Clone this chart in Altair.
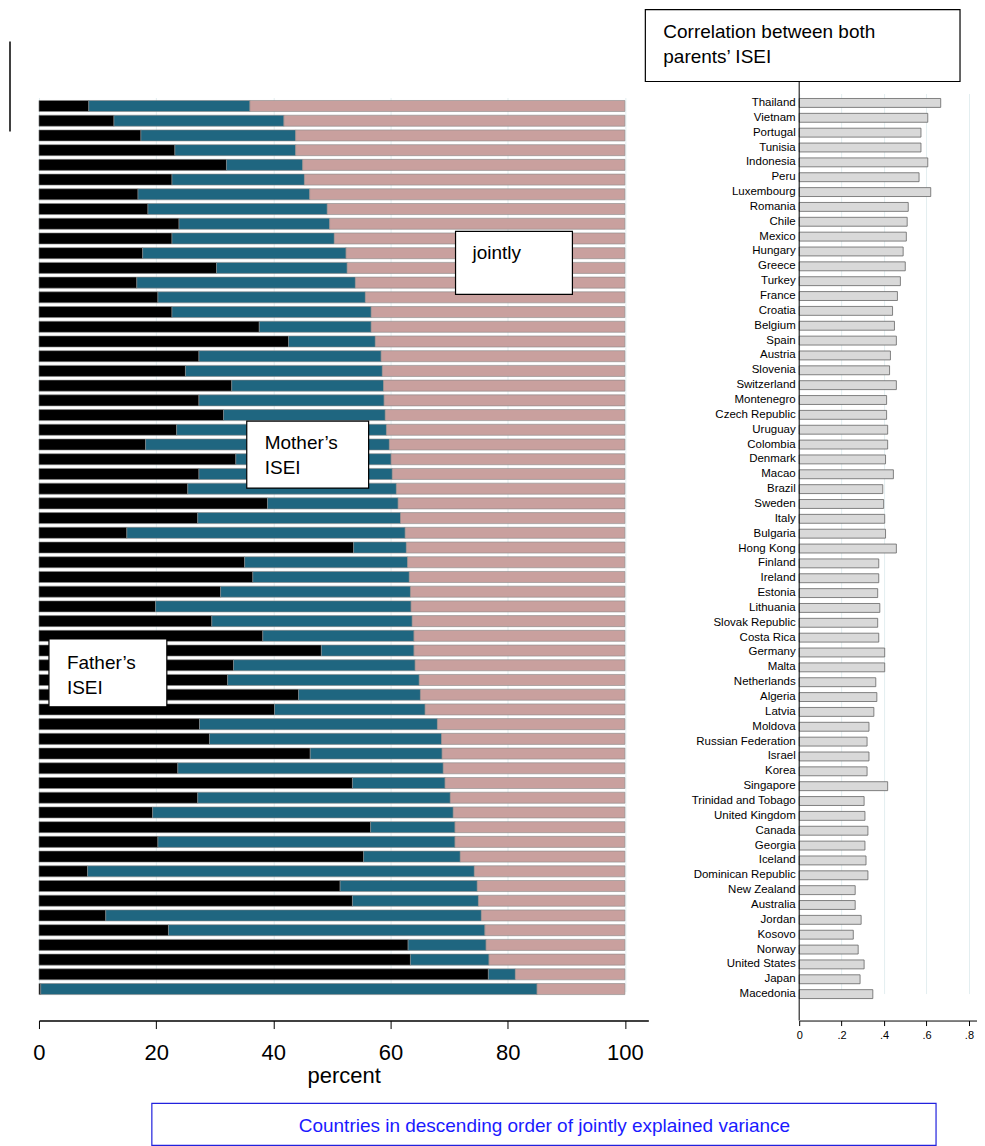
import altair as alt
import pandas as pd

countries = [
    "Thailand", "Vietnam", "Portugal", "Tunisia", "Indonesia", "Peru", "Luxembourg",
    "Romania", "Chile", "Mexico", "Hungary", "Greece", "Turkey", "France", "Croatia",
    "Belgium", "Spain", "Austria", "Slovenia", "Switzerland", "Montenegro",
    "Czech Republic", "Uruguay", "Colombia", "Denmark", "Macao", "Brazil", "Sweden",
    "Italy", "Bulgaria", "Hong Kong", "Finland", "Ireland", "Estonia", "Lithuania",
    "Slovak Republic", "Costa Rica", "Germany", "Malta", "Netherlands", "Algeria",
    "Latvia", "Moldova", "Russian Federation", "Israel", "Korea", "Singapore",
    "Trinidad and Tobago", "United Kingdom", "Canada", "Georgia", "Iceland",
    "Dominican Republic", "New Zealand", "Australia", "Jordan", "Kosovo", "Norway",
    "United States", "Japan", "Macedonia",
]
# end of the father's segment (percent)
father = [
    8.5, 12.8, 17.4, 23.2, 32.0, 22.7, 16.9, 18.6, 23.9, 22.7, 17.7, 30.3, 16.7, 20.3,
    22.7, 37.6, 42.6, 27.3, 25.0, 32.9, 27.3, 31.5, 23.5, 18.2, 33.6, 27.3, 25.4, 39.0,
    27.1, 15.0, 53.7, 35.1, 36.5, 31.0, 19.9, 29.5, 38.2, 48.2, 33.2, 32.2, 44.3, 40.2,
    27.4, 29.1, 46.3, 23.7, 53.5, 27.1, 19.4, 56.6, 20.3, 55.4, 8.3, 51.4, 53.5, 11.4,
    22.1, 63.0, 63.4, 76.7, 0.3,
]
# end of the mother's segment (percent, cumulative)
mother_end = [
    36.0, 41.8, 43.8, 43.8, 45.0, 45.3, 46.2, 49.2, 49.6, 50.4, 52.4, 52.6, 54.0, 55.7,
    56.7, 56.7, 57.4, 58.4, 58.6, 58.8, 58.9, 59.1, 59.3, 59.8, 60.1, 60.3, 61.0, 61.3,
    61.7, 62.5, 62.7, 62.9, 63.2, 63.4, 63.5, 63.7, 64.0, 64.0, 64.2, 64.9, 65.1, 65.9,
    68.0, 68.7, 68.8, 69.0, 69.3, 70.2, 70.7, 71.0, 71.0, 71.9, 74.3, 74.8, 75.0, 75.5,
    76.1, 76.3, 76.8, 81.3, 85.0,
]
correlation = [
    0.667, 0.606, 0.574, 0.574, 0.606, 0.565, 0.620, 0.514, 0.509, 0.505, 0.490, 0.500,
    0.477, 0.463, 0.440, 0.449, 0.458, 0.430, 0.426, 0.458, 0.412, 0.412, 0.417, 0.417,
    0.407, 0.444, 0.394, 0.398, 0.403, 0.407, 0.458, 0.375, 0.375, 0.370, 0.380, 0.370,
    0.375, 0.403, 0.403, 0.361, 0.366, 0.352, 0.329, 0.320, 0.329, 0.320, 0.417, 0.306,
    0.310, 0.324, 0.310, 0.315, 0.324, 0.264, 0.264, 0.292, 0.255, 0.278, 0.306, 0.287,
    0.347,
]

FONT = "Liberation Sans"
H = 950

rows = []
for i, c in enumerate(countries):
    rows.append({"country": c, "part": "Father", "o": 0, "v": father[i]})
    rows.append({"country": c, "part": "Mother", "o": 1, "v": mother_end[i] - father[i]})
    rows.append({"country": c, "part": "Jointly", "o": 2, "v": 100 - mother_end[i]})
df = pd.DataFrame(rows)
corr_df = pd.DataFrame({"country": countries, "corr": correlation})

y_left = alt.Y("country:N", sort=countries, axis=None,
               scale=alt.Scale(paddingInner=0.25, paddingOuter=0, range=[29, 924]))

bars = alt.Chart(df).mark_bar(stroke="#888888", strokeWidth=0.6).encode(
    x=alt.X("v:Q", stack="zero", title="percent",
            scale=alt.Scale(domain=[0, 104], nice=False),
            axis=alt.Axis(values=[0, 20, 40, 60, 80, 100], labelFontSize=22,
                          titleFontSize=22, titleFontWeight="normal", labelFont=FONT,
                          titleFont=FONT, grid=True, gridColor="#e3eef0",
                          domainColor="black", tickColor="black", labelColor="black",
                          titleColor="black", labelFlush=False, labelPadding=14,
                          tickSize=8, domainWidth=1.5, titlePadding=2)),
    y=y_left,
    color=alt.Color("part:N", legend=None,
                    scale=alt.Scale(domain=["Father", "Mother", "Jointly"],
                                    range=["#000000", "#1f6680", "#c9a09e"])),
    order=alt.Order("o:Q"),
)

one = alt.Data(values=[{}])


def box(x, x2, y, y2, stroke="black", data=one):
    return alt.Chart(data).mark_rect(fill="white", stroke=stroke, strokeWidth=1.2).encode(
        x=alt.value(x), x2=alt.value(x2), y=alt.value(y), y2=alt.value(y2))


def label(txt, x, y, size=19, color="black", align="left"):
    return alt.Chart(one).mark_text(text=txt, font=FONT, fontSize=size, color=color,
                                    align=align, baseline="middle", lineHeight=25).encode(
        x=alt.value(x), y=alt.value(y))


left = alt.layer(
    bars,
    box(417, 534, 160, 223), label("jointly", 434, 182),
    box(208, 330, 350, 417), label(["Mother\u2019s", "ISEI"], 226, 372),
    box(10, 128, 568, 636), label(["Father\u2019s", "ISEI"], 28, 592),
    box(113, 898, 1033, 1075, stroke="#2222dd"),
    label("Countries in descending order of jointly explained variance", 506, 1056,
          color="#1a1aff", align="center"),
    alt.Chart(one).mark_rule(color="black", strokeWidth=1.5).encode(
        x=alt.value(-29), y=alt.value(-30), y2=alt.value(60)),
).properties(width=610, height=H)

corr = alt.Chart(corr_df).mark_bar(fill="#d9d9d9", stroke="#666666", strokeWidth=0.8).encode(
    x=alt.X("corr:Q", title=None, scale=alt.Scale(domain=[0, 0.838], nice=False),
            axis=alt.Axis(values=[0, 0.2, 0.4, 0.6, 0.8], labelExpr="datum.value == 0 ? '0' : replace(format(datum.value, '.1f'), '0.', '.')",
                          labelFontSize=11, labelFont=FONT, grid=True, gridColor="#e3eef0",
                          domainColor="black", tickColor="black", labelColor="black",
                          labelFlush=False, labelPadding=4)),
    y=alt.Y("country:N", sort=countries, title=None,
            scale=alt.Scale(paddingInner=0.4, paddingOuter=0, range=[27, 928]),
            axis=alt.Axis(labelFontSize=11.5, labelFont=FONT, labelColor="black",
                          domain=False, ticks=False, labelPadding=4, grid=False)),
)

right = alt.layer(
    corr,
    alt.Chart(one).mark_rule(color="black", strokeWidth=1).encode(
        x=alt.value(0), y=alt.value(0), y2=alt.value(H)),
    box(-154, 161, -62, 10),
    label(["Correlation between both", "parents\u2019 ISEI"], -136, -40, size=19),
).properties(width=178, height=H)

chart = alt.hconcat(left, right, spacing=151, bounds="flush").properties(
    padding={"left": 1, "top": 0, "right": 0, "bottom": 0}
).configure_view(stroke=None)

chart.save("out.html", embed_options={"renderer": "svg", "actions": False})
